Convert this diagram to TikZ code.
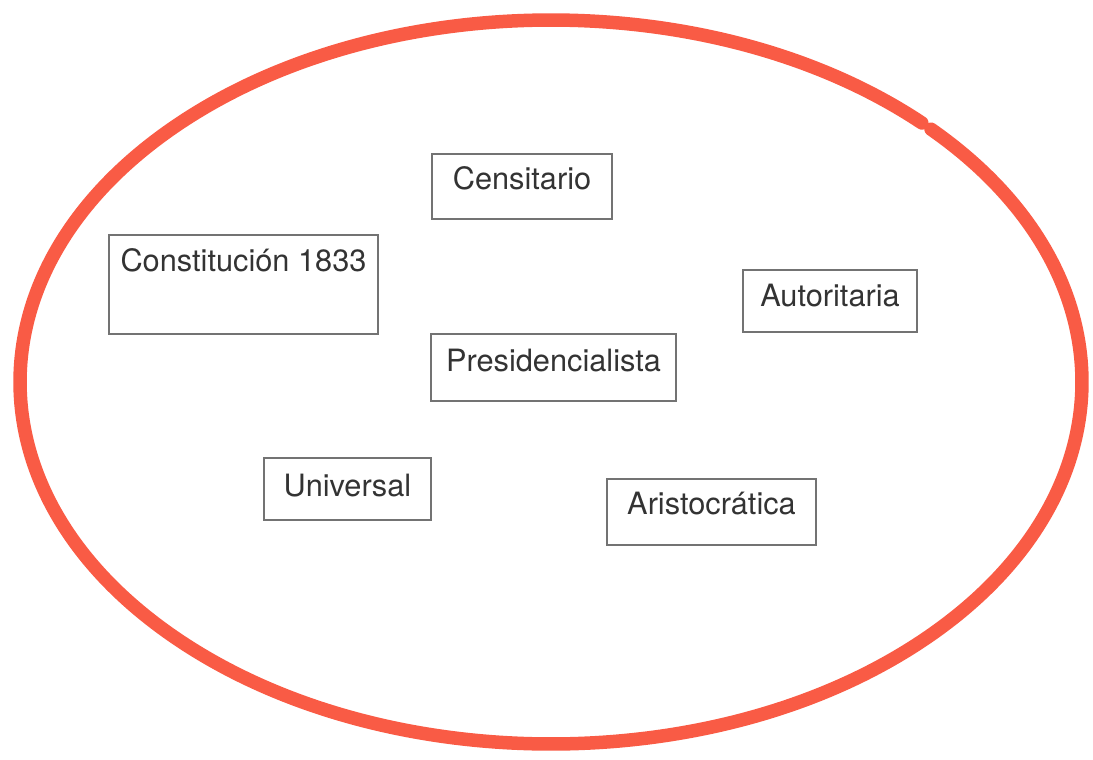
\documentclass[tikz,border=0pt]{standalone}
\usepackage{fontspec}
\setmainfont{TeX Gyre Heros}
\usepackage{xcolor}
\usetikzlibrary{positioning}
\definecolor{rojolapiz}{rgb}{0.976, 0.357, 0.271}
\definecolor{grisborde}{rgb}{0.45, 0.45, 0.45}
\definecolor{gristexto}{rgb}{0.2, 0.2, 0.2}
\tikzstyle{concepto} = [draw=grisborde, line width=0.9pt, inner sep=0pt, text=gristexto, font=\fontsize{17.5}{20}\selectfont, anchor=base]
\tikzstyle{lapiz} = [draw=rojolapiz, line width=0.27cm, line cap=round]

\begin{document}
\begin{tikzpicture}[x=0.02cm, y=-0.02cm]
      \useasboundingbox (0,0) rectangle (1093,760);
      \draw[lapiz] (551,382) ++(-44.3:531 and 362) arc[start angle=-44.3, end angle=314.3, x radius=531, y radius=362];
      \node (censitario) [concepto, minimum width=3.6cm, text height=0.72cm, text depth=0.58cm] at (522,190) {Censitario};
      \node (constitucion) [concepto, minimum width=5.38cm, text height=0.74cm, text depth=1.24cm] at (243.5,272) {Constitución 1833};
      \node (autoritaria) [concepto, minimum width=3.48cm, text height=0.74cm, text depth=0.50cm] at (830,307) {Autoritaria};
      \node (presidencialista) [concepto, minimum width=4.9cm, text height=0.76cm, text depth=0.58cm] at (553.5,372) {Presidencialista};
      \node (universal) [concepto, minimum width=3.34cm, text height=0.78cm, text depth=0.46cm] at (347.5,497) {Universal};
      \node (aristocratica) [concepto, minimum width=4.18cm, text height=0.72cm, text depth=0.60cm] at (711.5,515) {Aristocrática};
\end{tikzpicture}
\end{document}
